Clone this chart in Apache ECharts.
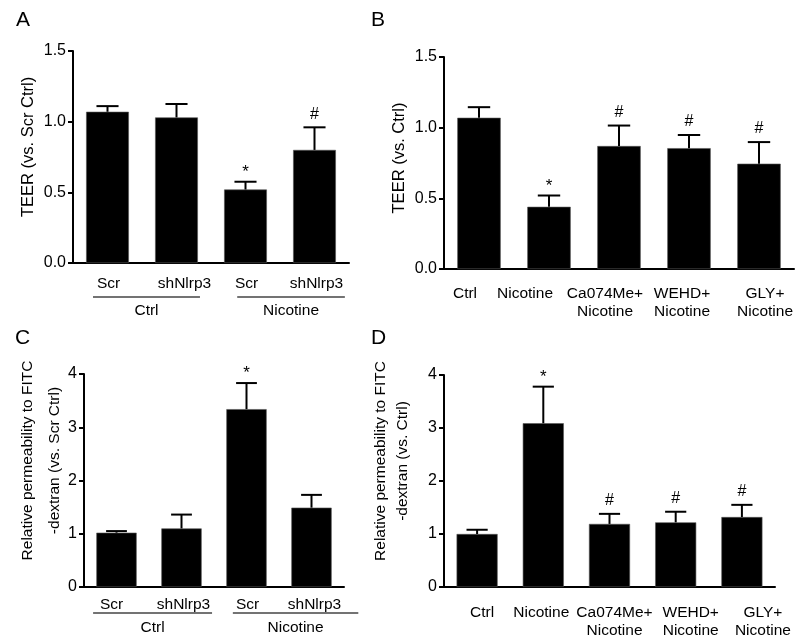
<!DOCTYPE html>
<html><head><meta charset="utf-8">
<script src="https://cdn.jsdelivr.net/npm/echarts@6/dist/echarts.min.js"></script>
<style>html,body{margin:0;padding:0;background:#fff}#c{width:800px;height:640px}</style>
</head><body><div id="c"></div>
<script>
// ---------- data ----------
const catsA = ['Scr', 'shNlrp3', 'Scr', 'shNlrp3'];
const meanA = [1.07, 1.03, 0.52, 0.80];
const semA  = [0.04, 0.095, 0.055, 0.16];
const markA = ['', '', '*', '#'];
const groupNamesA = ['Ctrl', 'Nicotine'];
const groupSpansA = [[0, 1], [2, 3]];

const catsB = ['Ctrl', 'Nicotine', 'Ca074Me+\nNicotine', 'WEHD+\nNicotine', 'GLY+\nNicotine'];
const meanB = [1.07, 0.44, 0.87, 0.855, 0.745];
const semB  = [0.075, 0.08, 0.145, 0.093, 0.153];
const markB = ['', '*', '#', '#', '#'];

const catsC = ['Scr', 'shNlrp3', 'Scr', 'shNlrp3'];
const meanC = [1.02, 1.10, 3.34, 1.49];
const semC  = [0.03, 0.26, 0.49, 0.24];
const markC = ['', '', '*', ''];
const groupNamesC = ['Ctrl', 'Nicotine'];
const groupSpansC = [[0, 1], [2, 3]];

const catsD = ['Ctrl', 'Nicotine', 'Ca074Me+\nNicotine', 'WEHD+\nNicotine', 'GLY+\nNicotine'];
const meanD = [1.00, 3.09, 1.19, 1.22, 1.32];
const semD  = [0.08, 0.69, 0.19, 0.20, 0.23];
const markD = ['', '*', '#', '#', '#'];

const yTicksTEER = ['0.0', '0.5', '1.0', '1.5'];
const yTicksPerm = ['0', '1', '2', '3', '4'];

// ---------- layout / style ----------
const FONT = '"Liberation Sans", Arial, Helvetica, sans-serif';
const panels = [
  { letter: 'A', lx: 16, ly: 10, cats: catsA, mean: meanA, sem: semA, mark: markA,
    grid: { left: 73, top: 51, width: 276, height: 212 }, ymax: 1.5, yint: 0.5, ticks: yTicksTEER,
    name: 'TEER (vs. Scr Ctrl)', nameSize: 16.5, nameGap: 36, namePad: [0, 0, 0, 20], nameLH: 18,
    xMargin: 12, xLH: 18, labelDx: [1, 8, 1, 2],
    groups: groupNamesA, spans: groupSpansA, gOff: [[0.21, 0.34], [0.12, 0.44]], lineDy: 34, textDy: 48 },
  { letter: 'B', lx: 371, ly: 10, cats: catsB, mean: meanB, sem: semB, mark: markB,
    grid: { left: 444, top: 57, width: 350, height: 212 }, ymax: 1.5, yint: 0.5, ticks: yTicksTEER,
    name: 'TEER (vs. Ctrl)', nameSize: 16.5, nameGap: 36, namePad: [0, 0, 0, 10], nameLH: 18,
    xMargin: 15, xLH: 18.5, labelDx: [-14, -24, -14, -7, 6] },
  { letter: 'C', lx: 15, ly: 328, cats: catsC, mean: meanC, sem: semC, mark: markC,
    grid: { left: 84, top: 374, width: 260, height: 213 }, ymax: 4, yint: 1, ticks: yTicksPerm,
    name: 'Relative permeability to FITC\n-dextran (vs. Scr Ctrl)', nameSize: 15.5, nameGap: 16, namePad: [0, 0, 0, 40], nameLH: 27,
    xMargin: 9, xLH: 18, labelDx: [-5, 2, 1, 3],
    groups: groupNamesC, spans: groupSpansC, gOff: [[0.36, 0.47], [0.21, 0.72]], lineDy: 26, textDy: 41 },
  { letter: 'D', lx: 371, ly: 328, cats: catsD, mean: meanD, sem: semD, mark: markD,
    grid: { left: 444, top: 375, width: 331, height: 212 }, ymax: 4, yint: 1, ticks: yTicksPerm,
    name: 'Relative permeability to FITC\n-dextran (vs. Ctrl)', nameSize: 15.5, nameGap: 30, namePad: [0, 0, 0, 40], nameLH: 22,
    xMargin: 16, xLH: 18.5, labelDx: [5, -2, 5, 15, 21] }
];

function errRender(marks) {
  return function (params, api) {
    const x = api.value(0), m = api.value(1), s = api.value(2);
    const pBar = api.coord([x, m]);
    const pTop = api.coord([x, m + s]);
    const bw = api.size([1, 0])[0];
    const hw = bw * 0.16;
    const children = [
      { type: 'line', shape: { x1: pBar[0], y1: pBar[1], x2: pTop[0], y2: pTop[1] }, style: { stroke: '#000', lineWidth: 2 } },
      { type: 'line', shape: { x1: pTop[0] - hw, y1: pTop[1], x2: pTop[0] + hw, y2: pTop[1] }, style: { stroke: '#000', lineWidth: 2 } }
    ];
    const mk = marks[params.dataIndex];
    if (mk) {
      children.push({ type: 'text', style: { text: mk, x: pTop[0], y: pTop[1] - (mk === '*' ? 1 : 5),
        align: 'center', verticalAlign: 'bottom', fontSize: mk === '*' ? 17 : 16, fontFamily: FONT, fill: '#000' } });
    }
    return { type: 'group', children };
  };
}

function catData(p) {
  return p.cats.map((c, i) => {
    const dx = p.labelDx[i] || 0;
    const pad = dx >= 0 ? [0, 0, 0, 2 * dx] : [0, -2 * dx, 0, 0];
    return { value: c, textStyle: { padding: pad } };
  });
}

const option = {
  backgroundColor: '#fff',
  animation: false,
  title: panels.map(p => ({ text: p.letter, left: p.lx, top: p.ly, padding: 0,
    textStyle: { fontSize: 21, fontWeight: 'normal', fontFamily: FONT, color: '#000' } })),
  grid: panels.map(p => Object.assign({ containLabel: false }, p.grid)),
  xAxis: panels.map((p, k) => ({
    type: 'category', gridIndex: k, data: catData(p),
    axisLine: { lineStyle: { color: '#000', width: 2 } },
    axisTick: { alignWithLabel: true, length: 5, lineStyle: { color: '#000', width: 2 } },
    axisLabel: { interval: 0, color: '#000', fontSize: 15.5, fontFamily: FONT, margin: p.xMargin, lineHeight: p.xLH }
  })),
  yAxis: panels.map((p, k) => ({
    type: 'value', gridIndex: k, min: 0, max: p.ymax, interval: p.yint,
    name: p.name, nameLocation: 'middle', nameGap: p.nameGap, nameMoveOverlap: false,
    nameTextStyle: { fontSize: p.nameSize, fontFamily: FONT, color: '#000', lineHeight: p.nameLH, padding: p.namePad },
    axisLine: { show: true, lineStyle: { color: '#000', width: 2 } },
    axisTick: { show: true, length: 5, lineStyle: { color: '#000', width: 2 } },
    splitLine: { show: false },
    axisLabel: { color: '#000', fontSize: 16, fontFamily: FONT, margin: 7,
      formatter: (v) => p.ticks[Math.round(v / p.yint)] }
  })),
  series: []
};

panels.forEach((p, k) => {
  option.series.push({
    type: 'bar', xAxisIndex: k, yAxisIndex: k, data: p.mean, barWidth: '62%',
    itemStyle: { color: '#000', borderColor: '#555', borderWidth: 0.6 }, z: 2
  });
  option.series.push({
    type: 'custom', xAxisIndex: k, yAxisIndex: k,
    data: p.mean.map((m, i) => [i, m, p.sem[i]]),
    encode: { x: 0, y: 1 },
    renderItem: errRender(p.mark), z: 3
  });
});

const chart = echarts.init(document.getElementById('c'), null, { renderer: 'canvas' });
chart.setOption(option);

// group annotation lines under category labels, positioned from the axes
const graphics = [];
panels.forEach((p, k) => {
  if (!p.groups) return;
  const px = i => chart.convertToPixel({ xAxisIndex: k }, i);
  const bw = px(1) - px(0);
  const base = chart.convertToPixel({ yAxisIndex: k }, 0);
  p.groups.forEach((name, j) => {
    const a = p.spans[j][0], b = p.spans[j][1];
    const x1 = px(a) - p.gOff[j][0] * bw;
    const x2 = px(b) + p.gOff[j][1] * bw;
    graphics.push({ type: 'line', shape: { x1, y1: base + p.lineDy, x2, y2: base + p.lineDy },
      style: { stroke: '#444', lineWidth: 1.5 } });
    graphics.push({ type: 'text', style: { text: name, x: (x1 + x2) / 2, y: base + p.textDy,
      align: 'center', verticalAlign: 'middle', fontSize: 15.5, fontFamily: FONT, fill: '#000' } });
  });
});
chart.setOption({ graphic: graphics });
</script>
</body></html>
